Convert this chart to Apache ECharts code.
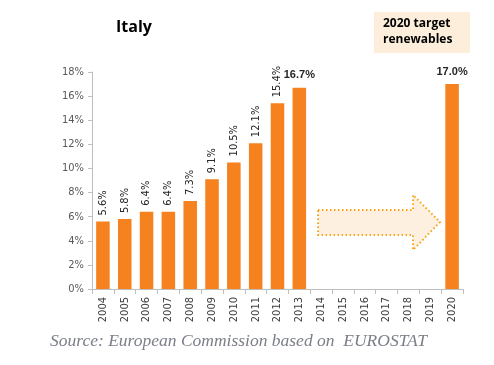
<!DOCTYPE html>
<html><head><meta charset="utf-8">
<script src="https://cdn.jsdelivr.net/npm/echarts@6/dist/echarts.min.js"></script>
<style>html,body{margin:0;padding:0;background:#fff}#c{width:494px;height:365px}</style>
</head><body><div id="c"></div>
<script>
const years = ['2004','2005','2006','2007','2008','2009','2010','2011','2012','2013','2014','2015','2016','2017','2018','2019','2020'];
const shares = [5.6, 5.8, 6.4, 6.4, 7.3, 9.1, 10.5, 12.1, 15.4, 16.7, null, null, null, null, null, null, 17.0];
const horizontalLabelYears = ['2013','2020'];
const yTicks = [0, 2, 4, 6, 8, 10, 12, 14, 16, 18];
const titleText = 'Italy';
const targetText = '2020 target\nrenewables';
const sourceText = 'Source: European Commission based on  EUROSTAT';

const orange = '#f5821f';
const fmt = p => Number(p.value).toFixed(1) + '%';
const data = shares.map((v, i) => {
  if (v === null) return null;
  const horiz = horizontalLabelYears.includes(years[i]);
  return {
    value: v,
    label: horiz ? {
      show: true, position: 'top', rotate: 0, distance: 7, formatter: fmt,
      fontWeight: 'bold', fontSize: 11, color: '#262626', fontFamily: 'Liberation Sans'
    } : {
      show: true, position: 'top', rotate: 90, align: 'left', verticalAlign: 'middle', distance: 6, formatter: fmt,
      fontSize: 11, color: '#262626', fontFamily: 'DejaVu Sans Condensed'
    }
  };
});

const chart = echarts.init(document.getElementById('c'), null, {renderer: 'canvas'});
chart.setOption({
  animation: false,
  grid: {left: 92, right: 31, top: 72, bottom: 76},
  xAxis: {
    type: 'category', data: years,
    axisLine: {lineStyle: {color: '#bfbfbf'}},
    axisTick: {show: true, length: 5, lineStyle: {color: '#bfbfbf'}},
    axisLabel: {rotate: 90, fontSize: 11, color: '#404040', margin: 8, fontFamily: 'DejaVu Sans Condensed'}
  },
  yAxis: {
    type: 'value', min: yTicks[0], max: yTicks[yTicks.length - 1], interval: 2,
    axisLine: {show: true, lineStyle: {color: '#bfbfbf'}},
    axisTick: {show: true, length: 4, lineStyle: {color: '#bfbfbf'}},
    splitLine: {show: false},
    axisLabel: {formatter: '{value}%', fontSize: 11, color: '#595959', margin: 8, fontFamily: 'DejaVu Sans Condensed'}
  },
  series: [{
    type: 'bar', data: data, barCategoryGap: '38%',
    itemStyle: {color: orange}
  }],
  graphic: [
    {type: 'text', left: 116, top: 19, style: {text: titleText, font: 'bold 16px "Open Sans"', fill: '#000'}},
    {type: 'rect', shape: {x: 374, y: 12, width: 96, height: 41}, style: {fill: '#fdeedb'}},
    {type: 'text', left: 383, top: 16, style: {text: targetText, font: 'bold 12px "Open Sans"', fill: '#000', lineHeight: 16}},
    {type: 'polygon', shape: {points: [[318,210],[413,210],[413,195],[440,222],[413,250],[413,235],[318,235]]},
      style: {fill: '#fdf0e0', stroke: '#f8a51c', lineWidth: 2, lineDash: [1.5, 2.5]}},
    {type: 'text', left: 50, top: 332, style: {text: sourceText, font: 'italic 17.5px "Liberation Serif"', fill: '#7a7f88'}}
  ]
});
</script></body></html>
